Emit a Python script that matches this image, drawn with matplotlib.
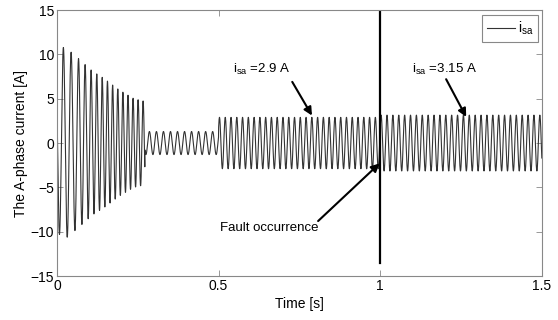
import numpy as np
import matplotlib
matplotlib.use("Agg")
import matplotlib.pyplot as plt

plt.rcParams["font.family"] = ["Liberation Sans", "DejaVu Sans"]
plt.rcParams["mathtext.fontset"] = "custom"
plt.rcParams["mathtext.rm"] = "Liberation Sans"

# --- stator current i_sa: envelope and frequency per operating stage ---
# start-up transient (peak envelope read at the crests)
start_env_t = [0.0, 0.023, 0.071, 0.110, 0.145, 0.192, 0.238, 0.272]
start_env_a = [10.0, 10.9, 9.4, 8.1, 7.3, 6.0, 5.0, 4.7]
start_freq_t = [0.0, 0.05, 0.10, 0.15, 0.272]
start_freq_hz = [41, 42, 55, 62, 65]

# steady stages after start-up: [t_start, t_end, amplitude A, frequency Hz]
stage_t0 = [0.272, 0.50, 1.00]
stage_t1 = [0.50, 1.00, 1.50]
stage_amp = [1.3, 2.9, 3.15]
stage_freq = [46, 56, 55]

phase0 = 2.675          # initial phase (i_sa(0) ~ 4.5 A, falling)
fault_t = 1.0           # fault instant marker
fault_line_bottom = -13.5

# --- build waveform ---
dt = 1e-4
t = np.arange(0.0, 1.5 + dt, dt)
amp = np.interp(t, start_env_t, start_env_a)
freq = np.interp(t, start_freq_t, start_freq_hz)
for t0, t1, a, f in zip(stage_t0, stage_t1, stage_amp, stage_freq):
    m = (t >= t0) & (t <= t1 + dt / 2)
    amp[m] = a
    freq[m] = f
phase = phase0 + 2 * np.pi * np.cumsum(freq) * dt
i_sa = amp * np.sin(phase)

# --- figure ---
fig = plt.figure(figsize=(5.58, 3.2), dpi=100, facecolor="white")
ax = fig.add_axes([0.102, 0.1375, 0.869, 0.831])

ax.plot(t, i_sa, color="#333333", lw=0.8, label=r"i$_\mathregular{sa}$")
ax.plot([fault_t, fault_t], [fault_line_bottom, 15], color="black", lw=1.6)

ax.set_xlim(0, 1.5)
ax.set_ylim(-15, 15)
ax.set_xticks([0, 0.5, 1, 1.5])
ax.set_xticklabels(["0", "0.5", "1", "1.5"])
ax.set_yticks([-15, -10, -5, 0, 5, 10, 15])
ax.tick_params(direction="in", top=True, right=True, length=4, width=0.6,
               color="#888888", labelsize=10, pad=2)
for sp in ax.spines.values():
    sp.set_color("#888888")
    sp.set_linewidth(0.8)

ax.set_xlabel("Time [s]", fontsize=10, labelpad=3)
ax.set_ylabel("The A-phase current [A]", fontsize=10, labelpad=2)

leg = ax.legend(loc="upper right", bbox_to_anchor=(0.992, 0.981),
                borderaxespad=0, fontsize=10, handlelength=2.0,
                handletextpad=0.2, borderpad=0.35, fancybox=False,
                framealpha=1)
leg.get_frame().set_edgecolor("#888888")
leg.get_frame().set_linewidth(0.8)

arrow = dict(arrowstyle="-|>", color="black", lw=1.5, mutation_scale=12,
             shrinkA=0, shrinkB=0)

ax.text(0.633, 8.3, r"i$_\mathregular{sa}$ =2.9 A", fontsize=9.5,
        ha="center", va="center")
ax.annotate("", xy=(0.789, 3.1), xytext=(0.728, 6.9), arrowprops=arrow)

ax.text(1.20, 8.3, r"i$_\mathregular{sa}$ =3.15 A", fontsize=9.5,
        ha="center", va="center")
ax.annotate("", xy=(1.266, 2.95), xytext=(1.204, 7.2), arrowprops=arrow)

ax.text(0.657, -9.6, "Fault occurrence", fontsize=9.5, ha="center", va="center")
ax.annotate("", xy=(0.998, -2.3), xytext=(0.808, -8.8), arrowprops=arrow)

fig.savefig("out.png", dpi=100)
